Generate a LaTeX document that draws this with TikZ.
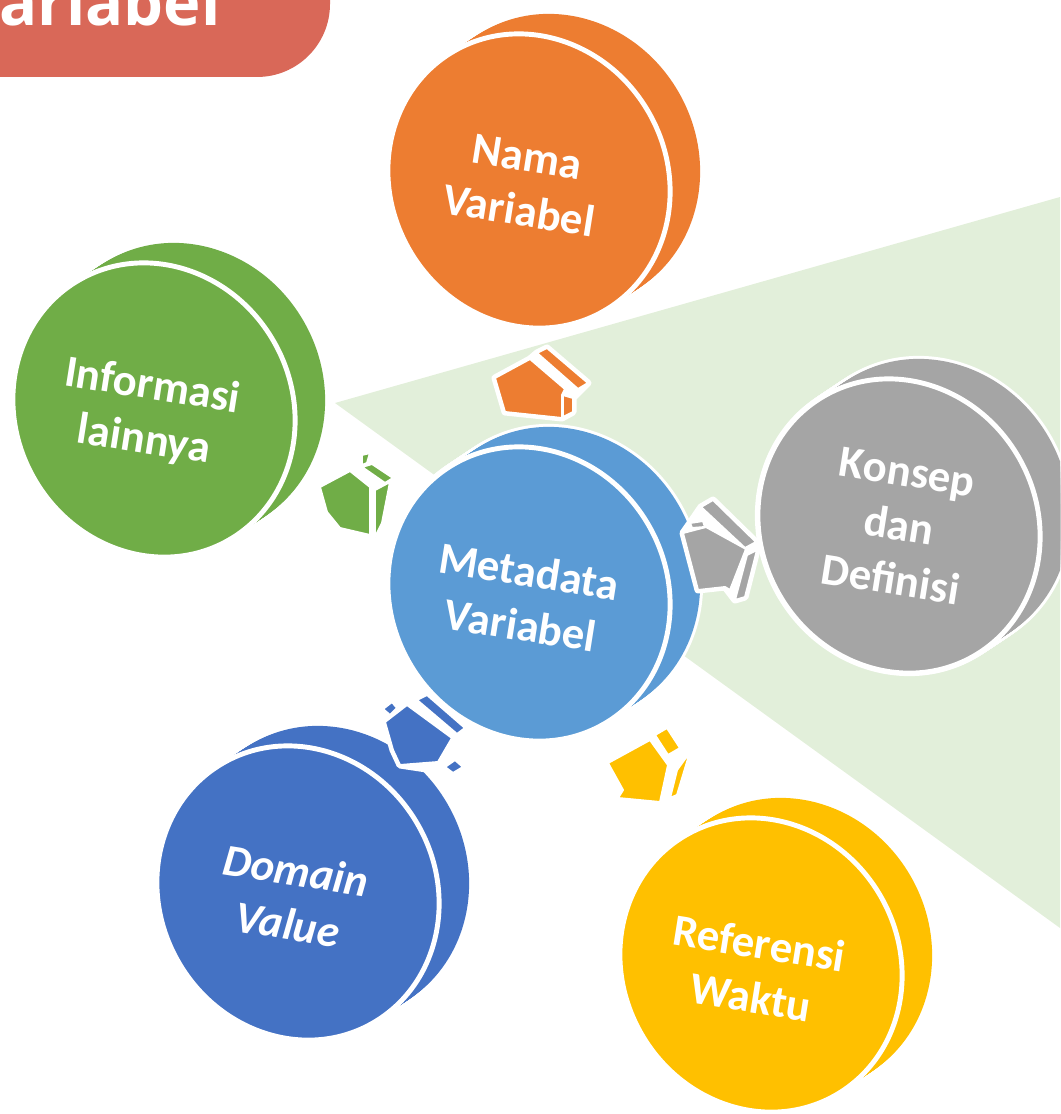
\documentclass[tikz,border=0pt]{standalone}
\usepackage{fontspec}
\newfontfamily\carl{Carlito}
\newfontfamily\opens{Open Sans}
\usetikzlibrary{calc}
\definecolor{cOrange}{HTML}{ED7D31}
\definecolor{cGreen}{HTML}{70AD47}
\definecolor{cGrey}{HTML}{A5A5A5}
\definecolor{cBlue}{HTML}{5B9BD5}
\definecolor{cDark}{HTML}{4472C4}
\definecolor{cYellow}{HTML}{FFC000}
\definecolor{cBg}{HTML}{E2EFDA}
\definecolor{cTitle}{HTML}{D96858}
\tikzset{
  lbl/.style={text=white, align=center, font=\carl\bfseries\fontsize{25.5}{31}\selectfont, rotate=-9, inner sep=0pt},
  arrhalo/.style={draw=white, fill=white, line width=4pt, line join=round},
  arrpart/.style={draw=white, line width=1.1pt, line join=round},
}
\newcommand{\mydisc}[2]{%
  \foreach \t in {0,1,...,20}{\fill[white] ($#1+\t*(1.5,-1)$) circle[x radius=141, y radius=153, rotate=30];}
  \foreach \t in {0,1,...,20}{\fill[#2] ($#1+\t*(1.5,-1)$) circle[x radius=138, y radius=150, rotate=30];}
  \filldraw[fill=#2, draw=white, line width=2.8pt] #1 circle[x radius=138, y radius=150, rotate=30];
}
\begin{document}
\begin{tikzpicture}[x=0.02cm, y=-0.02cm]
\useasboundingbox (0,0) rectangle (1060,1114);
\clip (0,0) rectangle (1060,1114);
% background wedge
\fill[cBg] (335,403) -- (1060,197) -- (1060,928) -- cycle;
% title tab
\fill[cTitle] (-20,-200) -- (330,-200) [rounded corners=1.46cm] -- (330,77) [sharp corners] -- (-20,77) -- cycle;
\node[anchor=base east, text=white, font=\opens\bfseries\fontsize{36}{40}\selectfont, inner sep=0pt] (title) at (221,26) {Variabel};
% discs
\mydisc{(529,181)}{cOrange}
\mydisc{(154,410)}{cGreen}
\mydisc{(899,526)}{cGrey}
\mydisc{(761,965)}{cYellow}
\mydisc{(298,893)}{cDark}
\mydisc{(529,594)}{cBlue}
% arrows: orange
\path[arrhalo] (495,378) -- (530,359) -- (537,353) -- (547,348) -- (588,383) -- (573,398) -- (573,412) -- (562,418) -- (505,412) -- cycle;
\filldraw[arrpart, fill=cOrange] (495,378) -- (530,359) -- (565,389) -- (562,395) -- (562,418) -- (505,412) -- cycle;
\filldraw[arrpart, fill=cOrange] (537,353) -- (547,348) -- (588,383) -- (578,389) -- cycle;
\filldraw[arrpart, fill=cOrange] (563,395) -- (573,398) -- (573,412) -- (563,417) -- cycle;
% grey
\path[arrhalo] (683,533) -- (690,523) -- (701,507) -- (713,500) -- (756,542) -- (757,550) -- (745,597) -- (735,600) -- (725,587) -- (698,590) -- cycle;
\filldraw[arrpart, fill=cGrey] (683,533) -- (706,527) -- (746,549) -- (730,590) -- (725,587) -- (698,590) -- cycle;
\filldraw[arrpart, fill=cGrey] (701,507) -- (713,500) -- (756,542) -- (745,548) -- cycle;
\filldraw[arrpart, fill=cGrey] (747,555) -- (757,550) -- (745,597) -- (735,600) -- cycle;
\filldraw[arrpart, fill=cGrey] (690,523) -- (703,521) -- (705,527) -- (692,528) -- cycle;
% green
\path[arrhalo] (320,487) -- (362,455) -- (370,453) -- (372,464) -- (393,478) -- (390,482) -- (382,523) -- (375,537) -- (340,528) -- (327,512) -- cycle;
\filldraw[arrpart, fill=cGreen] (320,487) -- (350,471) -- (370,487) -- (370,535) -- (340,528) -- (327,512) -- cycle;
\filldraw[arrpart, fill=cGreen] (362,467) -- (372,464) -- (393,478) -- (385,483) -- cycle;
\filldraw[arrpart, fill=cGreen] (375,490) -- (390,482) -- (382,523) -- (375,537) -- cycle;
\filldraw[arrpart, fill=cGreen] (362,455) -- (370,453) -- (367,463) -- (362,465) -- cycle;
% dark blue
\path[arrhalo] (383,709) -- (392,702) -- (417,700) -- (427,695) -- (465,728) -- (457,734) -- (463,767) -- (453,773) -- (400,765) -- (393,750) -- (385,722) -- cycle;
\filldraw[arrpart, fill=cDark] (385,722) -- (407,705) -- (452,738) -- (438,762) -- (400,765) -- (393,750) -- cycle;
\filldraw[arrpart, fill=cDark] (417,700) -- (427,695) -- (465,728) -- (457,734) -- cycle;
\filldraw[arrpart, fill=cDark] (383,709) -- (392,702) -- (397,708) -- (390,715) -- cycle;
\filldraw[arrpart, fill=cDark] (445,767) -- (455,760) -- (463,767) -- (453,773) -- cycle;
% yellow
\filldraw[arrpart, fill=cYellow] (608,763) -- (650,740) -- (668,765) -- (660,802) -- (618,798) -- (623,790) -- cycle;
\filldraw[arrpart, fill=cYellow] (655,735) -- (667,728) -- (680,748) -- (668,755) -- cycle;
\filldraw[arrpart, fill=cYellow] (677,770) -- (690,752) -- (677,795) -- (670,798) -- cycle;
% labels
\node[lbl] (nama) at (523,184) {Nama\\Variabel};
\node[lbl] (meta) at (525,598) {Metadata\\Variabel};
\node[lbl] (info) at (148,414) {Informasi\\lainnya};
\node[lbl] (konsep) at (899,526) {Konsep\\dan\\Definisi};
\node[lbl, font=\carl\bfseries\itshape\fontsize{25.5}{31}\selectfont] (domain) at (292,897) {Domain\\Value};
\node[lbl] (ref) at (755,970) {Referensi\\Waktu};
\end{tikzpicture}
\end{document}
